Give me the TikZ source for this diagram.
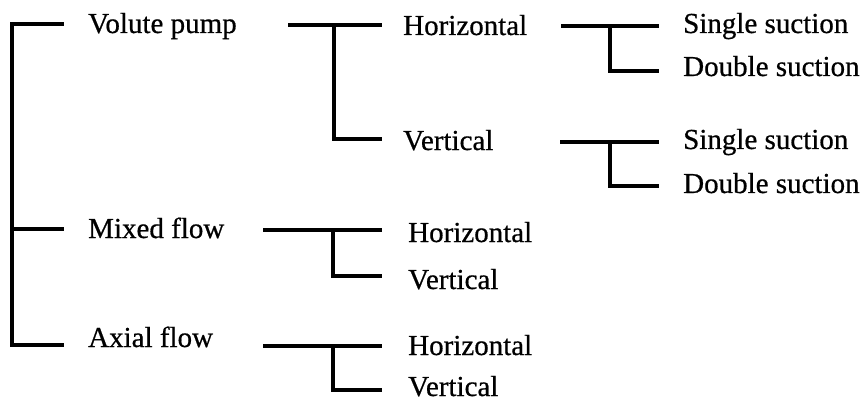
\documentclass[tikz,border=0pt]{standalone}
\usepackage{fontspec}
\setmainfont{Liberation Serif}[FakeBold=0.6]
\begin{document}
\begin{tikzpicture}[x=1pt,y=-1pt,
  lbl/.style={anchor=base west,inner sep=0pt,font=\fontsize{29}{34}\selectfont},
  bracket/.style={line width=3.2pt,line cap=rect,line join=miter}]
\useasboundingbox (0,0) rectangle (865,401);

% first level: pump types
\node[lbl] (vp) at (88,33)  {Volute pump};
\node[lbl] (mf) at (88,238) {Mixed flow};
\node[lbl] (af) at (88,347) {Axial flow};

% second level: shaft orientation
\node[lbl] (vph) at (403,35)  {Horizontal};
\node[lbl] (vpv) at (403,150) {Vertical};
\node[lbl] (mfh) at (408,242) {Horizontal};
\node[lbl] (mfv) at (408,289) {Vertical};
\node[lbl] (afh) at (408,355) {Horizontal};
\node[lbl] (afv) at (408,396) {Vertical};

% third level: suction arrangement
\node[lbl] (hs) at (683,33)  {Single suction};
\node[lbl] (hd) at (683,76)  {Double suction};
\node[lbl] (vs) at (683,149) {Single suction};
\node[lbl] (vd) at (683,193) {Double suction};

% bracket junction points
\coordinate (r0) at (12,24);
\coordinate (r1) at (12,229);
\coordinate (r2) at (12,345);
\coordinate (e0) at (62,24);
\coordinate (e1) at (62,229);
\coordinate (e2) at (62,345);

\coordinate (vpa) at (290,25);  \coordinate (vpj) at (334,25);
\coordinate (vpb) at (380,25);  \coordinate (vpk) at (334,139);
\coordinate (vpc) at (380,139);

\coordinate (mfa) at (265,230); \coordinate (mfj) at (333,230);
\coordinate (mfb) at (380,230); \coordinate (mfk) at (333,276);
\coordinate (mfc) at (380,276);

\coordinate (afa) at (265,346); \coordinate (afj) at (333,346);
\coordinate (afb) at (380,346); \coordinate (afk) at (333,390);
\coordinate (afc) at (380,390);

\coordinate (ha) at (563,26);  \coordinate (hj) at (610,26);
\coordinate (hb) at (657,26);  \coordinate (hk) at (610,71);
\coordinate (hc) at (657,71);

\coordinate (va) at (562,142); \coordinate (vj) at (610,142);
\coordinate (vb) at (657,142); \coordinate (vk) at (610,186);
\coordinate (vc) at (657,186);

% root bracket
\draw[bracket] (e0) -- (r0) -- (r2) -- (e2);
\draw[bracket] (r1) -- (e1);

% orientation brackets
\draw[bracket] (vpa) -- (vpb);
\draw[bracket] (vpj) -- (vpk) -- (vpc);
\draw[bracket] (mfa) -- (mfb);
\draw[bracket] (mfj) -- (mfk) -- (mfc);
\draw[bracket] (afa) -- (afb);
\draw[bracket] (afj) -- (afk) -- (afc);

% suction brackets
\draw[bracket] (ha) -- (hb);
\draw[bracket] (hj) -- (hk) -- (hc);
\draw[bracket] (va) -- (vb);
\draw[bracket] (vj) -- (vk) -- (vc);
\end{tikzpicture}
\end{document}
